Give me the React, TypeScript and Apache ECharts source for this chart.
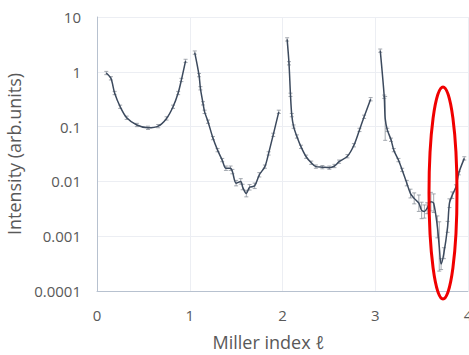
import React, { useEffect, useRef } from "react";
import * as echarts from "echarts";

// Miller index ℓ and intensity (arb. units), four separate rod segments
const seg1X = [0.1, 0.15, 0.19, 0.25, 0.32, 0.43, 0.55, 0.66, 0.75, 0.82, 0.875, 0.91, 0.955];
const seg1Y = [0.95, 0.76, 0.41, 0.23, 0.145, 0.107, 0.095, 0.102, 0.141, 0.23, 0.41, 0.71, 1.58];
const seg1E = [0.03, 0.03, 0.03, 0.03, 0.03, 0.03, 0.03, 0.03, 0.03, 0.03, 0.03, 0.03, 0.03];

const seg2X = [1.054, 1.1, 1.115, 1.143, 1.16, 1.197, 1.25, 1.3, 1.35, 1.39, 1.44, 1.46, 1.5, 1.55, 1.57, 1.61, 1.645, 1.7, 1.75, 1.81, 1.85, 1.9, 1.96];
const seg2Y = [2.24, 0.87, 0.5, 0.266, 0.186, 0.123, 0.0617, 0.0372, 0.0245, 0.0174, 0.0174, 0.0151, 0.0093, 0.01, 0.0079, 0.006, 0.0078, 0.0083, 0.0132, 0.0186, 0.0324, 0.0708, 0.186];
const seg2E = [0.03, 0.03, 0.03, 0.03, 0.03, 0.03, 0.03, 0.03, 0.03, 0.04, 0.04, 0.04, 0.05, 0.05, 0.05, 0.06, 0.05, 0.05, 0.04, 0.03, 0.03, 0.03, 0.03];

const seg3X = [2.05, 2.07, 2.086, 2.1, 2.12, 2.155, 2.2, 2.255, 2.31, 2.36, 2.43, 2.505, 2.56, 2.61, 2.7, 2.77, 2.83, 2.88, 2.95];
const seg3Y = [3.9, 1.43, 0.38, 0.162, 0.1, 0.066, 0.0427, 0.0282, 0.0219, 0.0186, 0.0182, 0.0178, 0.0191, 0.0229, 0.0288, 0.0457, 0.087, 0.151, 0.316];
const seg3E = [0.03, 0.03, 0.03, 0.03, 0.03, 0.03, 0.03, 0.03, 0.03, 0.03, 0.03, 0.03, 0.03, 0.03, 0.03, 0.03, 0.03, 0.03, 0.03];

const seg4X = [3.054, 3.097, 3.107, 3.13, 3.17, 3.2, 3.25, 3.29, 3.34, 3.38, 3.42, 3.47, 3.5, 3.53, 3.56, 3.6, 3.63, 3.67, 3.69, 3.71, 3.74, 3.78, 3.8, 3.83, 3.87, 3.9, 3.96];
const seg4Y = [2.43, 0.351, 0.141, 0.087, 0.0575, 0.0372, 0.0245, 0.0162, 0.0093, 0.006, 0.0049, 0.004, 0.00295, 0.00282, 0.00324, 0.00427, 0.004, 0.00148, 0.00065, 0.00031, 0.00049, 0.00148, 0.004, 0.0056, 0.0079, 0.0141, 0.0263];
const seg4E = [0.03, 0.03, 0.4, 0.03, 0.03, 0.03, 0.03, 0.03, 0.05, 0.08, 0.1, 0.15, 0.15, 0.12, 0.1, 0.17, 0.17, 0.2, 0.45, 0.1, 0.1, 0.1, 0.08, 0.06, 0.04, 0.03, 0.03];

const xTicks = { min: 0, max: 4, interval: 1 };
const yRange = { min: 0.0001, max: 10 };

const LINE = "#3c4a5e";
const TXT = "#595959";
const FONT = "'Open Sans', 'Noto Sans', sans-serif";

export default function App() {
  const ref = useRef<HTMLDivElement>(null);
  useEffect(() => {
    if (!ref.current) return;
    const chart = echarts.init(ref.current, null, { renderer: "svg" });
    const segs = [
      [seg1X, seg1Y, seg1E],
      [seg2X, seg2Y, seg2E],
      [seg3X, seg3Y, seg3E],
      [seg4X, seg4Y, seg4E],
    ];
    const lineSeries = segs.map(([xs, ys]) => ({
      type: "line",
      data: xs.map((x, i) => [x, ys[i]]),
      showSymbol: false,
      smooth: 0.3,
      lineStyle: { color: LINE, width: 1.5 },
      z: 3,
    }));
    const errData: number[][] = [];
    segs.forEach(([xs, ys, es]) => {
      xs.forEach((x, i) => {
        const f = Math.pow(10, es[i]);
        errData.push([x, ys[i] / f, ys[i] * f]);
      });
    });
    const errSeries = {
      type: "custom",
      data: errData,
      z: 2,
      renderItem: (params: any, api: any) => {
        const x = api.value(0);
        const lo = api.coord([x, api.value(1)]);
        const hi = api.coord([x, api.value(2)]);
        const w = 2;
        const style = { stroke: "#8d939c", lineWidth: 0.8 };
        return {
          type: "group",
          children: [
            { type: "line", shape: { x1: lo[0], y1: lo[1], x2: hi[0], y2: hi[1] }, style },
            { type: "line", shape: { x1: lo[0] - w, y1: lo[1], x2: lo[0] + w, y2: lo[1] }, style },
            { type: "line", shape: { x1: hi[0] - w, y1: hi[1], x2: hi[0] + w, y2: hi[1] }, style },
          ],
        };
      },
    };
    chart.setOption({
      animation: false,
      grid: { left: 97, right: 1, top: 17, bottom: 64, containLabel: false, outerBoundsMode: "none" },
      xAxis: {
        type: "value",
        min: xTicks.min,
        max: xTicks.max,
        interval: xTicks.interval,
        name: "Miller index \u2113",
        nameLocation: "middle",
        nameGap: 42,
        nameTextStyle: { color: TXT, fontSize: 18, fontFamily: FONT, padding: [0, 28, 0, 0] },
        axisLine: { lineStyle: { color: "#b7c1cf", width: 1 } },
        axisTick: { show: false },
        axisLabel: { color: TXT, fontSize: 15, fontFamily: FONT, margin: 16 },
        splitLine: { show: true, lineStyle: { color: "#eceef3" } },
      },
      yAxis: {
        type: "log",
        logBase: 10,
        min: yRange.min,
        max: yRange.max,
        name: "Intensity (arb.units)",
        nameLocation: "middle",
        nameGap: 68,
        nameTextStyle: { color: TXT, fontSize: 18, fontFamily: FONT },
        axisLine: { show: true, lineStyle: { color: "#b7c1cf", width: 1 } },
        axisTick: { show: false },
        axisLabel: {
          color: TXT,
          fontSize: 15,
          fontFamily: FONT,
          margin: 16,
          formatter: (v: number) => String(Number(v.toPrecision(1))),
        },
        splitLine: { show: true, lineStyle: { color: "#eceef3" } },
        minorTick: { show: false },
      },
      graphic: [
        {
          type: "ellipse",
          shape: { cx: 443, cy: 193, rx: 14, ry: 106 },
          style: { fill: "none", stroke: "#f00000", lineWidth: 3 },
          z: 10,
        },
      ],
      series: [...lineSeries, errSeries],
    });
    return () => chart.dispose();
  }, []);
  return (
    <div
      ref={ref}
      style={{ position: "fixed", left: 0, top: 0, width: 469, height: 355, background: "#fff" }}
    />
  );
}
